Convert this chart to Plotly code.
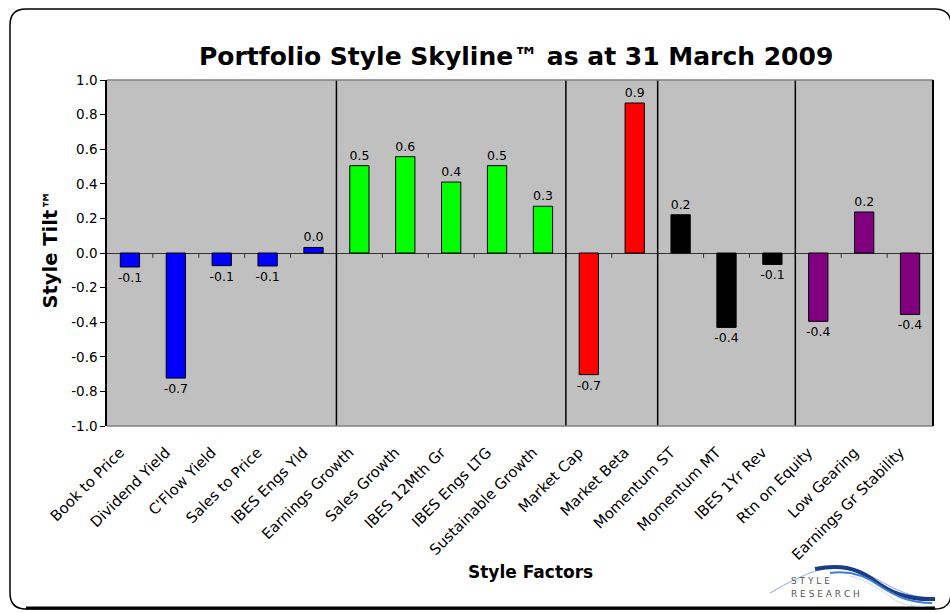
import plotly.graph_objects as go

factors = ["Book to Price", "Dividend Yield", "C'Flow Yield", "Sales to Price", "IBES Engs Yld",
           "Earnings Growth", "Sales Growth", "IBES 12Mth Gr", "IBES Engs LTG", "Sustainable Growth",
           "Market Cap", "Market Beta",
           "Momentum ST", "Momentum MT", "IBES 1Yr Rev",
           "Rtn on Equity", "Low Gearing", "Earnings Gr Stability"]
tilts = [-0.081, -0.723, -0.073, -0.075, 0.032,
         0.505, 0.557, 0.41, 0.505, 0.27,
         -0.703, 0.867,
         0.221, -0.43, -0.066,
         -0.395, 0.237, -0.355]
group_sizes = [5, 5, 2, 3, 3]
group_colors = ["#0000FF", "#00FF00", "#FF0000", "#000000", "#800080"]
y_ticks = [1.0, 0.8, 0.6, 0.4, 0.2, 0.0, -0.2, -0.4, -0.6, -0.8, -1.0]

FONT = "DejaVu Sans, Liberation Sans, Arial"
W, H = 950, 613
L, R, T, B = 107, 933, 80, 426

def px(x):
    return (x - L) / (R - L)

def py(y):
    return 1 - (y - T) / (B - T)

colors = []
for size, c in zip(group_sizes, group_colors):
    colors += [c] * size

fig = go.Figure()
fig.add_trace(go.Bar(
    x=list(range(len(factors))), y=tilts,
    marker=dict(color=colors, line=dict(color="black", width=1)),
    width=0.42,
    text=[f"{v:.1f}" for v in tilts], textposition="outside",
    textfont=dict(size=12.5, color="black", family=FONT),
    constraintext="none",
    cliponaxis=False, hoverinfo="skip",
))

shapes = []
# boundary ticks on zero line
for i in range(len(factors) - 1):
    shapes.append(dict(type="line", xref="x", yref="y", x0=i + 0.5, x1=i + 0.5,
                       y0=0, y1=-0.028, line=dict(color="#333333", width=1)))
# group dividers
pos = 0
for size in group_sizes[:-1]:
    pos += size
    shapes.append(dict(type="line", xref="x", yref="paper", x0=pos - 0.5, x1=pos - 0.5,
                       y0=0, y1=1, line=dict(color="black", width=1.5)))
# plot border (top/right/bottom)
shapes.append(dict(type="line", xref="paper", yref="paper", x0=0, x1=1, y0=1, y1=1,
                   line=dict(color="#808080", width=1.5)))
shapes.append(dict(type="line", xref="paper", yref="paper", x0=0, x1=1, y0=0, y1=0,
                   line=dict(color="#808080", width=1.5)))
shapes.append(dict(type="line", xref="paper", yref="paper", x0=1, x1=1, y0=0, y1=1,
                   line=dict(color="black", width=2)))

# outer rounded frame
x0, x1, y0, y1, r = 10, 951, 9, 609, 16
path = (f"M {px(x0+r)},{py(y0)} L {px(x1-r)},{py(y0)} "
        f"Q {px(x1)},{py(y0)} {px(x1)},{py(y0+r)} "
        f"L {px(x1)},{py(y1-r)} Q {px(x1)},{py(y1)} {px(x1-r)},{py(y1)} "
        f"L {px(x0+r)},{py(y1)} Q {px(x0)},{py(y1)} {px(x0)},{py(y1-r)} "
        f"L {px(x0)},{py(y0+r)} Q {px(x0)},{py(y0)} {px(x0+r)},{py(y0)} Z")
shapes.append(dict(type="path", xref="paper", yref="paper", path=path,
                   line=dict(color="black", width=1.5), layer="below"))
shapes.append(dict(type="line", xref="paper", yref="paper", x0=px(x0 + r), x1=px(x1 - r),
                   y0=py(y1 - 1), y1=py(y1 - 1), line=dict(color="black", width=3)))

# logo swoosh (cubic curves)
swooshes = [
    ("#9db5dd", 1.2, [(770, 593), (800, 575), (825, 565), (845, 567), (875, 571), (895, 599), (935, 598)]),
    ("#1a3a8a", 4.0, [(815, 569), (840, 564), (856, 568), (872, 579), (890, 592), (905, 600), (935, 599)]),
    ("#3f7fd0", 2.0, [(830, 573), (850, 570), (866, 576), (880, 586), (895, 596), (910, 603), (932, 603)]),
    ("#c8d8f0", 1.0, [(850, 576), (868, 580), (880, 590), (895, 600), (905, 606), (915, 606), (925, 606)]),
]
for col, wdt, pts in swooshes:
    (a, b), (c1, d1), (c2, d2), (m1, n1), (c3, d3), (c4, d4), (e, f) = pts
    p = (f"M {px(a)},{py(b)} C {px(c1)},{py(d1)} {px(c2)},{py(d2)} {px(m1)},{py(n1)} "
         f"C {px(c3)},{py(d3)} {px(c4)},{py(d4)} {px(e)},{py(f)}")
    shapes.append(dict(type="path", xref="paper", yref="paper", path=p,
                       line=dict(color=col, width=wdt)))

annotations = [
    dict(text="<b>Portfolio Style Skyline™ as at 31 March 2009</b>", x=px(516), y=py(40),
         xref="paper", yref="paper", showarrow=False,
         font=dict(size=25, color="black", family=FONT)),
    dict(text="<b>Style Tilt™</b>", x=px(36), y=py(250), xref="paper", yref="paper",
         showarrow=False, textangle=-90,
         font=dict(size=19.5, color="black", family=FONT)),
    dict(text="<b>Style Factors</b>", x=px(530), y=py(584), xref="paper", yref="paper",
         showarrow=False, font=dict(size=17, color="black", family=FONT)),
    dict(text="S T Y L E", x=px(789), y=py(588), xref="paper", yref="paper", xanchor="left",
         showarrow=False, font=dict(size=9, color="#555555", family=FONT)),
    dict(text="R E S E A R C H", x=px(789), y=py(601), xref="paper", yref="paper", xanchor="left",
         showarrow=False, font=dict(size=9, color="#555555", family=FONT)),
]

fig.update_layout(
    width=W, height=H,
    margin=dict(l=L, r=W - R, t=T, b=H - B, autoexpand=False),
    paper_bgcolor="white", plot_bgcolor="#C0C0C0",
    showlegend=False, shapes=shapes, annotations=annotations,
    font=dict(family=FONT, color="black"),
    xaxis=dict(range=[-0.5, len(factors) - 0.5], tickmode="array",
               tickvals=list(range(len(factors))), ticktext=factors,
               tickangle=-45, tickfont=dict(size=14.8), ticks="", showgrid=False,
               ticklabelstandoff=14, ticklabelshift=-10,
               zeroline=False, showline=False, fixedrange=True, automargin=False),
    yaxis=dict(range=[-1.0, 1.0], tickmode="array", tickvals=y_ticks,
               ticktext=[f"{v:.1f}" for v in y_ticks], tickfont=dict(size=13.5),
               ticks="outside", ticklen=5, tickcolor="black", showgrid=False,
               zeroline=True, zerolinecolor="#333333", zerolinewidth=1,
               showline=True, linecolor="black", linewidth=1.5, fixedrange=True,
               automargin=False),
)

fig.write_html("out.html", config={"displayModeBar": False},
               post_script="document.body.style.margin='0';document.body.style.overflow='hidden';")
